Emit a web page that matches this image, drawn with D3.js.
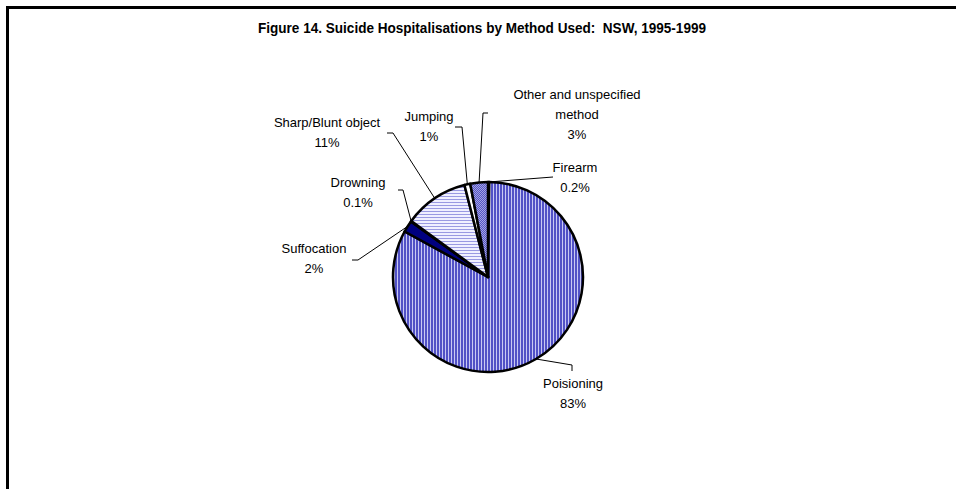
<!DOCTYPE html>
<html>
<head>
<meta charset="utf-8">
<script src="https://cdn.jsdelivr.net/npm/d3@7"></script>
<style>
  body { margin: 0; background: #fff; }
  text { font-family: "Liberation Sans", Arial, sans-serif; }
</style>
</head>
<body>
<div id="chart"></div>
<script>
var width = 956,
    height = 489;

// data, in the order Excel draws it (clockwise from 12 o'clock)
var methods = ["Firearm", "Poisioning", "Suffocation", "Drowning", "Sharp/Blunt object", "Jumping", "Other and unspecified method"];
var shares = [0.2, 83, 2, 0.1, 11, 1, 3];
var shareLabels = ["0.2%", "83%", "2%", "0.1%", "11%", "1%", "3%"];

// label lines as Excel wraps them
var labelLines = [
    ["Firearm"],
    ["Poisioning"],
    ["Suffocation"],
    ["Drowning"],
    ["Sharp/Blunt object"],
    ["Jumping"],
    ["Other and unspecified", "method"]
];

// label layout: text centre, leader elbow and leader end
var labelLayout = [
    {x: 575, y: 167, elbow: [553, 177], end: [553, 177]},
    {x: 573, y: 383, elbow: [572, 365], end: [572, 371]},
    {x: 314, y: 248, elbow: [358, 260], end: [352, 260]},
    {x: 358, y: 182, elbow: [403, 190], end: [398, 190]},
    {x: 327, y: 122, elbow: [393, 133], end: [387, 133]},
    {x: 429, y: 116, elbow: [462, 127], end: [455, 127]},
    {x: 577, y: 94,  elbow: [483, 113], end: [488, 113]}
];

var cx = 488, cy = 277, radius = 95;

var svg = d3.select("#chart").append("svg")
    .attr("width", width)
    .attr("height", height);

svg.append("rect")
    .attr("width", width)
    .attr("height", height)
    .attr("fill", "#fff");

// patterns
var defs = svg.append("defs");

var vert = defs.append("pattern")
    .attr("id", "vstripe")
    .attr("patternUnits", "userSpaceOnUse")
    .attr("width", 3).attr("height", 3);
vert.append("rect").attr("width", 3).attr("height", 3).attr("fill", "#c8c8f2");
vert.append("rect").attr("width", 2).attr("height", 3).attr("fill", "#5151c6");

var horiz = defs.append("pattern")
    .attr("id", "hstripe")
    .attr("patternUnits", "userSpaceOnUse")
    .attr("width", 3).attr("height", 3);
horiz.append("rect").attr("width", 3).attr("height", 3).attr("fill", "#f0f0ff");
horiz.append("rect").attr("width", 3).attr("height", 1).attr("fill", "#9a9ae2");

var check = defs.append("pattern")
    .attr("id", "check")
    .attr("patternUnits", "userSpaceOnUse")
    .attr("width", 2).attr("height", 2);
check.append("rect").attr("width", 2).attr("height", 2).attr("fill", "#a4a4e4");
check.append("rect").attr("width", 1).attr("height", 1).attr("fill", "#5555c4");
check.append("rect").attr("x", 1).attr("y", 1).attr("width", 1).attr("height", 1).attr("fill", "#5555c4");

var fills = ["#000000", "url(#vstripe)", "#000080", "#000080", "url(#hstripe)", "#ffffff", "url(#check)"];

// outer frame (right and bottom edges fall outside the window)
svg.append("rect")
    .attr("x", 7.5)
    .attr("y", 7.5)
    .attr("width", 1000)
    .attr("height", 600)
    .attr("fill", "none")
    .attr("stroke", "#000")
    .attr("stroke-width", 3);

svg.append("text")
    .attr("x", 482)
    .attr("y", 33)
    .attr("text-anchor", "middle")
    .attr("font-size", "15px")
    .attr("font-weight", "bold")
    .attr("textLength", 448)
    .attr("lengthAdjust", "spacingAndGlyphs")
    .style("white-space", "pre")
    .text("Figure 14. Suicide Hospitalisations by Method Used:  NSW, 1995-1999");

var pie = d3.pie()
    .sort(null)
    .value(function(d) { return d; });

var arc = d3.arc()
    .innerRadius(0)
    .outerRadius(radius);

var arcs = pie(shares);

var pieG = svg.append("g")
    .attr("transform", "translate(" + cx + "," + cy + ")");

pieG.selectAll(".slice")
    .data(arcs)
    .enter().append("path")
    .attr("class", "slice")
    .attr("d", arc)
    .attr("fill", function(d, i) { return fills[i]; })
    .attr("stroke", "#000")
    .attr("stroke-width", 2.5)
    .attr("stroke-linejoin", "round");

// leader lines
svg.selectAll(".leader")
    .data(arcs)
    .enter().append("polyline")
    .attr("class", "leader")
    .attr("fill", "none")
    .attr("stroke", "#000")
    .attr("stroke-width", 1)
    .attr("points", function(d, i) {
        var a = (d.startAngle + d.endAngle) / 2;
        var sx = cx + radius * Math.sin(a),
            sy = cy - radius * Math.cos(a);
        var L = labelLayout[i];
        return [[sx, sy], L.elbow, L.end].map(function(p) { return p.join(","); }).join(" ");
    });

// labels
var labels = svg.selectAll(".pie-label")
    .data(arcs)
    .enter().append("text")
    .attr("class", "pie-label")
    .attr("text-anchor", "middle")
    .attr("font-size", "13px")
    .attr("fill", "#000");

labels.each(function(d, i) {
    var t = d3.select(this);
    var L = labelLayout[i];
    var lines = labelLines[i].concat([shareLabels[i]]);
    lines.forEach(function(line, j) {
        t.append("tspan")
            .attr("x", L.x)
            .attr("y", L.y + j * 20 + 5)
            .text(line);
    });
});
</script>
</body>
</html>
